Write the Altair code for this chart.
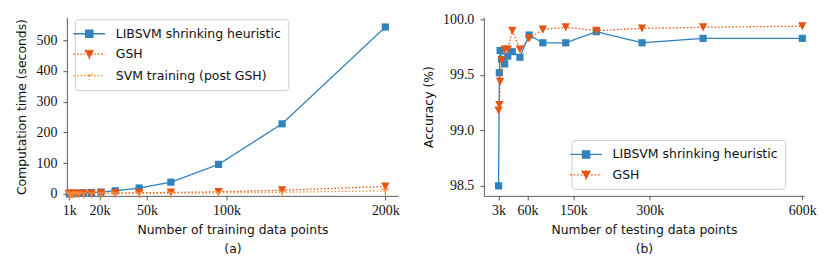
import altair as alt
import pandas as pd

series_names = ["LIBSVM shrinking heuristic", "GSH", "SVM training (post GSH)"]
colors = ["#3182bd", "#e6550d", "#fd8d3c"]

# (a) computation time vs training size (thousands)
train_k = [1, 1.5, 2, 3, 5, 7, 10, 15, 21, 30, 45, 65, 95, 135, 200]
time_libsvm = [0.2, 0.4, 0.6, 1.0, 1.5, 2.2, 3.0, 4.5, 6.0, 10.0, 19.0, 38.0, 96.0, 228.0, 543.0]
time_gsh = [0.1, 0.15, 0.2, 0.3, 0.5, 0.7, 1.0, 1.4, 1.9, 2.6, 3.4, 4.4, 6.5, 12.0, 24.0]
time_svm = [0.02, 0.03, 0.05, 0.08, 0.12, 0.18, 0.25, 0.4, 0.6, 0.9, 1.3, 1.9, 3.0, 5.0, 10.0]

# (b) accuracy vs testing size (thousands)
test_k = [3, 4.5, 6, 9, 15, 21, 30, 45, 63, 90, 135, 195, 285, 405, 600]
acc_libsvm = [98.50, 99.52, 99.72, 99.64, 99.60, 99.67, 99.71, 99.66, 99.86, 99.79, 99.79, 99.89, 99.79, 99.83, 99.83]
acc_gsh = [99.18, 99.23, 99.44, 99.63, 99.73, 99.73, 99.90, 99.73, 99.83, 99.91, 99.93, 99.90, 99.92, 99.93, 99.94]

train_ticks = [1, 20, 50, 100, 200]
test_ticks = [3, 60, 150, 300, 600]
time_ticks = [0, 100, 200, 300, 400, 500]
acc_ticks = [98.5, 99.0, 99.5, 100.0]

# marker shapes (Vega custom paths in [-1,1] box)
TRI_DOWN = "M-1,-0.95L1,-0.95L0,1Z"
TRI_Y = "M0,0L0,1M0,0L-0.866,-0.5M0,0L0.866,-0.5"
# legend symbols: line through marker
LEG_SQ = "M-2.45,0L2.45,0M-0.56,-0.56L0.56,-0.56L0.56,0.56L-0.56,0.56Z"
LEG_TRI = "M-2.45,0L2.45,0M-0.66,-0.6L0.66,-0.6L0,0.64Z"
LEG_Y = "M-2.45,0L2.45,0M0,0L0,0.66M0,0L-0.57,-0.33M0,0L0.57,-0.33"

dfa = pd.DataFrame({
    "x": train_k * 3,
    "y": time_libsvm + time_gsh + time_svm,
    "series": [series_names[0]] * len(train_k) + [series_names[1]] * len(train_k) + [series_names[2]] * len(train_k),
})
dfb = pd.DataFrame({
    "x": test_k * 2,
    "y": acc_libsvm + acc_gsh,
    "series": [series_names[0]] * len(test_k) + [series_names[1]] * len(test_k),
})


def panel(df, names, xdom, ydom, xticks, yticks, yfmt, xtitle, ytitle, legend_pos, w, h):
    X = alt.X("x:Q", scale=alt.Scale(domain=xdom, nice=False, zero=False),
              axis=alt.Axis(values=xticks, labelExpr="datum.value + 'k'", title=xtitle))
    Y = alt.Y("y:Q", scale=alt.Scale(domain=ydom, nice=False, zero=False),
              axis=alt.Axis(values=yticks, format=yfmt, title=ytitle))
    layers = []
    styles = {
        series_names[0]: dict(dash=[1, 0], shape="square", filled=True, size=52, sw=0),
        series_names[1]: dict(dash=[1.5, 2], shape=TRI_DOWN, filled=True, size=70, sw=0),
        series_names[2]: dict(dash=[1.5, 2], shape=TRI_Y, filled=False, size=80, sw=1.3),
    }
    for i, name in enumerate(names):
        st = styles[name]
        base = alt.Chart(df).transform_filter(alt.datum.series == name)
        layers.append(base.mark_line(color=colors[i], strokeWidth=1.3, strokeDash=st["dash"]).encode(x=X, y=Y))
        if st["filled"]:
            layers.append(base.mark_point(shape=st["shape"], filled=True, color=colors[i], opacity=1,
                                          size=st["size"]).encode(x=X, y=Y))
        else:
            layers.append(base.mark_point(shape=st["shape"], filled=False, color=colors[i], opacity=1,
                                          size=st["size"], strokeWidth=st["sw"]).encode(x=X, y=Y))
    leg_paths = [LEG_SQ, LEG_TRI, LEG_Y][:len(names)]
    leg_dash = [[1, 0], [1.5, 2], [1.5, 2]][:len(names)]
    legend = alt.Legend(title=None, orient="none", legendX=legend_pos[0], legendY=legend_pos[1], padding=7,
                        fillColor="rgba(255,255,255,0.85)", strokeColor="#cccccc", cornerRadius=3,
                        labelFont="DejaVu Sans", labelFontSize=12.5, labelColor="#111111", labelLimit=0,
                        symbolSize=169, symbolStrokeWidth=1.3, labelOffset=19, rowPadding=6.5)
    ldf = pd.DataFrame({"series": names})
    leg_layer = alt.Chart(ldf).transform_filter("false").mark_point(filled=True, opacity=1).encode(
        fill=alt.Fill("series:N", scale=alt.Scale(domain=names, range=colors[:len(names)]), legend=legend),
        stroke=alt.Stroke("series:N", scale=alt.Scale(domain=names, range=colors[:len(names)]), legend=legend),
        shape=alt.Shape("series:N", scale=alt.Scale(domain=names, range=leg_paths), legend=legend),
        strokeDash=alt.StrokeDash("series:N", scale=alt.Scale(domain=names, range=leg_dash), legend=legend),
    )
    layers.append(leg_layer)
    return alt.layer(*layers).properties(width=w, height=h)


left = panel(dfa, series_names, [-0.5, 208], [-6.5, 574.7], train_ticks, time_ticks, "d",
             ["Number of training data points", "(a)"], "Computation time (seconds)",
             (8, 2), 332, 179)
right = panel(dfb, series_names[:2], [-26, 603.4], [98.41, 100.02], test_ticks, acc_ticks, ".1f",
              ["Number of testing data points", "(b)"], "Accuracy (%)",
              (88, 123), 321, 179)

chart = alt.hconcat(left, right, spacing=86, bounds="flush").resolve_scale(
    fill="independent", stroke="independent", shape="independent", strokeDash="independent",
    x="independent", y="independent"
).resolve_legend(
    fill="independent", stroke="independent", shape="independent", strokeDash="independent"
).properties(
    padding={"left": 8, "top": 4, "right": 5, "bottom": 5}
).configure_view(stroke=None).configure_axis(
    domainColor="#333333", domainWidth=0.8, tickColor="#333333", tickWidth=0.8, tickSize=4,
    labelFont="Liberation Serif", labelFontSize=14, labelColor="#111111", labelPadding=3,
    titleFont="DejaVu Sans", titleFontSize=12.4, titleFontWeight="normal", titleColor="#111111",
    titleLineHeight=19, grid=False,
).configure_axisY(labelPadding=6, titlePadding=7).configure_axisX(labelPadding=4, titlePadding=6)

chart.save("out.html", embed_options={"renderer": "svg", "actions": False})
